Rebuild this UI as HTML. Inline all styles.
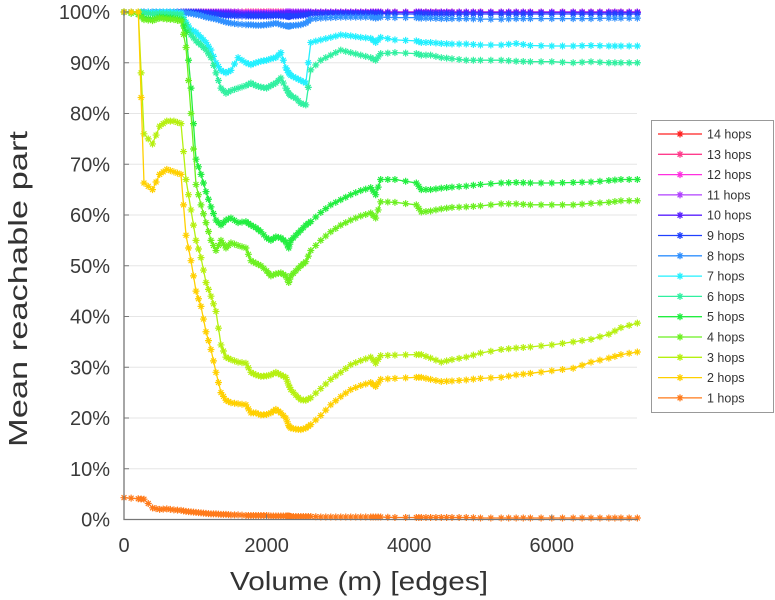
<!DOCTYPE html>
<html><head><meta charset="utf-8"><style>
body{margin:0;background:#fff;}
svg{display:block;font-family:"Liberation Sans",sans-serif;}
</style></head><body>
<svg id="chart" width="775" height="600" viewBox="0 0 775 600" xmlns="http://www.w3.org/2000/svg">
<g id="grid"></g>
<g id="series"></g>
<g id="axes"></g>
<text x="359" y="590" font-size="26" fill="#333" text-anchor="middle" textLength="258" lengthAdjust="spacingAndGlyphs">Volume (m) [edges]</text>
<text transform="translate(27,289) rotate(-90)" font-size="26" fill="#333" text-anchor="middle" textLength="316" lengthAdjust="spacingAndGlyphs">Mean reachable part</text>
<g id="legend"></g>
</svg>
<script>
const xs = [0,200,280,400,500,600,700,800,870,940,1010,1080,1150,1220,1290,1360,1430,1500,1600,1710,1780,1850,1920,2000,2060,2130,2200,2270,2310,2340,2410,2480,2550,2620,2760,2900,3040,3180,3320,3460,3530,3600,3800,4100,4170,4300,4450,4600,4800,5000,5290,5500,5700,6000,6300,6550,6800,6970,7200];
const h1 = [4.3,4.1,4.0,2.3,2.0,2.1,1.9,1.8,1.6,1.5, 1.4,1.3,1.2,1.1,1.1,1.0,1.0,0.9,0.9,0.8, 0.8,0.8,0.8,0.8,0.7,0.7,0.7,0.7,0.7,0.6, 0.6,0.6,0.6,0.6,0.5,0.5,0.5,0.5,0.5,0.5, 0.5,0.5,0.4,0.4,0.4,0.4,0.4,0.4,0.4,0.3, 0.3,0.3,0.3,0.3,0.3,0.3,0.3,0.3,0.3];
const h2 = [100,100,66.3,65,68,69,68.5,68,56,51, 45,42,37,33.5,29,25,23.5,23,22.8,22.6, 21,21,20.6,20.7,21,21.7,21,20,18.5,18, 17.8,17.7,18,18.7,20.5,22.6,24.2,25.6,26.4,27, 26.2,27.6,27.8,28,28,27.6,27.2,27.3,27.5,27.8, 28,28.5,28.8,29.3,29.8,31,31.8,32.5,33];
const h3 = [100,100,76,74,77.5,78.5,78.5,78,67,61, 55,51.6,46.7,44,41,34.4,32,31.5,31,30.8, 29,28.5,28.2,28.3,28.5,29,28.5,28,26.5,25.6, 24.5,23.6,23.5,24,25.8,27.6,29,30.5,31.3,32, 30.8,32.3,32.4,32.5,32.5,31.8,31,31.5,32,32.8, 33.5,33.8,34,34.4,35,35.5,36.5,37.8,38.7];
const h4 = [100,99.5,98.5,98.3,98.8,98.6,98.5,98.2,93,80, 66,62,58.5,55,53,55,53.5,54.5,54,53.5, 51,50.5,50,49,48,48.4,48.6,48,46.7,48, 49,50,50.8,53,55,56.7,58,59,59.8,60.4, 59.4,62.6,62.5,62,60.6,60.8,61.2,61.5,61.6,61.8, 62.2,62.2,62,62,62,62.3,62.5,62.8,62.8];
const h5 = [100,99.5,98.8,98.6,99,98.9,98.8,98.5,96,85, 71,68,64.6,61.6,59,58,59,59.4,58.5,58.7, 58,57.5,56.7,55.5,55,55.7,55.5,54.7,53.5,55, 56,57,58,58.7,60.5,62,63,64,64.8,65.4, 64,67,67,66.3,65,65,65.3,65.5,65.7,66, 66.3,66.4,66.3,66.3,66.4,66.5,66.8,67,67];
const h6 = [100,100,99.8,99.6,99.7,99.6,99.6,99.5,97.5,95.5, 94.3,93.5,92.5,91,88,85,84,84.5,85,85.5, 86,85.5,85.2,85,85.5,86,87,85,84,83.5, 83,82,81.7,88.6,90.5,91.5,92.5,92,91.5,91, 90.5,91.8,92,91.8,91.5,91.5,91,90.8,90.5,90.5, 90.5,90.3,90.2,90.2,90,90.2,90,90,90];
const h7 = [100,100,100,100,100,100,100,99.8,98,96.5, 96,95,94,92.5,90,88.5,88,88.5,91,90, 89.6,90,90.3,90.5,90.8,91,92,89,88,87.5, 87,86.5,86,94,94.5,95,95.5,95.3,95,94.8, 94,95,94.5,94.3,94,94,93.8,93.7,93.7,93.5, 93.5,93.8,93.4,93.3,93.3,93.4,93.3,93.3,93.3];
const h8 = [100,100,100,100,100,100,100,100,99.8,99.7, 99.5,99.3,99,98.8,98.6,98.3,98,97.8,97.6,97.5, 97.5,97.4,97.4,97.5,97.6,97.8,97.5,97.3,97.2,97.3, 97.4,97.5,97.8,98.6,98.8,98.9,99,99,99,99, 98.8,99,98.9,98.9,98.8,98.8,98.7,98.7,98.7,98.6, 98.6,98.7,98.7,98.7,98.7,98.7,98.8,98.8,98.8];
const h9 = [100,100,100,100,100,100,100,100,100,100, 99.9,99.8,99.7,99.6,99.5,99.4,99.3,99.3,99.2,99.2, 99.2,99.2,99.2,99.2,99.2,99.3,99.2,99.2,99.1,99.2, 99.2,99.3,99.4,99.6,99.6,99.7,99.7,99.7,99.7,99.7, 99.6,99.7,99.6,99.6,99.6,99.6,99.6,99.6,99.6,99.6, 99.6,99.6,99.6,99.6,99.6,99.6,99.6,99.6,99.6];
const h10 = [100,100,100,100,100,100,100,100,100,100, 100,100,99.9,99.9,99.9,99.8,99.8,99.8,99.7,99.6, 99.6,99.6,99.6,99.6,99.6,99.6,99.7,99.7,99.7,99.7, 99.8,99.8,99.8,99.9,99.9,99.9,99.9,99.9,99.9,99.9, 99.9,99.9,99.9,99.9,99.9,99.9,99.9,99.9,99.9,99.9, 99.9,99.9,99.9,99.9,99.9,99.9,99.9,99.9,99.9];
const h11 = [100,100,100,100,100,100,100,100,100,100, 100,100,100,100,100,100,100,100,100,99.8, 99.8,99.8,99.8,99.8,99.8,99.8,99.8,100,100,100, 100,100,100,100,100,100,100,100,100,100, 100,100,100,100,100,100,100,100,100,100, 100,100,100,100,100,100,100,100,100];
const h12 = [100,100,100,100,100,100,100,100,100,100, 100,100,100,100,100,100,100,100,100,99.9, 99.9,99.9,99.9,99.9,99.9,99.9,99.9,100,100,100, 100,100,100,100,100,100,100,100,100,100, 100,100,100,100,100,100,100,100,100,100, 100,100,100,100,100,100,100,100,100];
const h13 = [100,100,100,100,100,100,100,100,100,100, 100,100,100,100,100,100,100,100,100,100, 100,100,100,100,100,100,100,100,100,100, 100,100,100,100,100,100,100,100,100,100, 100,100,100,100,100,100,100,100,100,100, 100,100,100,100,100,100,100,100,100];
const h14 = [100,100,100,100,100,100,100,100,100,100, 100,100,100,100,100,100,100,100,100,100, 100,100,100,100,100,100,100,100,100,100, 100,100,100,100,100,100,100,100,100,100, 100,100,100,100,100,100,100,100,100,100, 100,100,100,100,100,100,100,100,100];
const seriesNames = ["1 hops","2 hops","3 hops","4 hops","5 hops","6 hops","7 hops","8 hops","9 hops","10 hops","11 hops","12 hops","13 hops","14 hops"];
const seriesVals = [h1,h2,h3,h4,h5,h6,h7,h8,h9,h10,h11,h12,h13,h14];
const colors = ["#ff7a1a","#ffd000","#b6f010","#6cf020","#22ee40","#30f0a0","#22f0ff","#3090ff","#2040ff","#5a20ff","#b040ff","#ff30e0","#ff3c8c","#ff2020"];
const yTicks = [0,10,20,30,40,50,60,70,80,90,100];
const xTicks = [0,2000,4000,6000];

const NS = "http://www.w3.org/2000/svg";
const X0 = 124, PXPER = 71.3/1000, Y0 = 519.5, PYPER = 5.075;
function sx(v){return X0 + v*PXPER;}
function sy(v){return Y0 - v*PYPER;}
function mk(tag, attrs, parent){const e=document.createElementNS(NS,tag);for(const k in attrs)e.setAttribute(k,attrs[k]);parent.appendChild(e);return e;}
function starPath(x,y,r){
  const d=r*0.7;
  return `M${x-r},${y}L${x+r},${y}M${x},${y-r}L${x},${y+r}M${x-d},${y-d}L${x+d},${y+d}M${x-d},${y+d}L${x+d},${y-d}`;
}
const grid=document.getElementById('grid'), axes=document.getElementById('axes'), ser=document.getElementById('series'), leg=document.getElementById('legend');
yTicks.forEach(t=>{
  if(t>0){const g=mk('line',{x1:X0,x2:637,y1:sy(t),y2:sy(t),stroke:'#e6e6e6','stroke-width':1},grid);
  
  }
  const tk=mk('line',{x1:X0,x2:X0+5,y1:sy(t),y2:sy(t),stroke:'#777','stroke-width':1},axes);
  
  
  const lb=mk('text',{x:110,y:sy(t)+7,'font-size':20,fill:'#3a3a3a','text-anchor':'end'},axes);
  lb.textContent=t+'%';
  
  
});
xTicks.forEach(t=>{
  const tk=mk('line',{x1:sx(t),x2:sx(t),y1:Y0,y2:Y0-5,stroke:'#777','stroke-width':1},axes);
  
  
  const lb=mk('text',{x:sx(t),y:552,'font-size':20,fill:'#3a3a3a','text-anchor':'middle'},axes);
  lb.textContent=t;
  
  
});
const ax=mk('path',{d:`M${X0},10L${X0},${Y0}L638,${Y0}`,fill:'none',stroke:'#777','stroke-width':1.3},axes);



for(let s=seriesVals.length-1;s>=0;s--){
  const vals=seriesVals[s];
  const g=mk('g',{},ser);
  
  
  let d='', st='';
  for(let i=0;i<xs.length;i++){
    const x=sx(xs[i]), y=sy(vals[i]);
    d+=(i?'L':'M')+x.toFixed(1)+','+y.toFixed(1);
    st+=starPath(x,y,3.5);
    if(i<xs.length-1){
      const x2=sx(xs[i+1]), y2=sy(vals[i+1]);
      st+=starPath((x+x2)/2,(y+y2)/2,3.5);
    }
  }
  const ln=mk('path',{d:d,fill:'none',stroke:colors[s],'stroke-width':1.3},g);
  
  
  const mp=mk('path',{d:st,fill:'none',stroke:colors[s],'stroke-width':1.2},g);
  
  
}

const box=mk('rect',{x:651.5,y:120.5,width:122,height:292,fill:'#fff',stroke:'#999','stroke-width':1},leg);


for(let k=0;k<14;k++){
  const s=13-k, y=134+k*20.3;
  const e=mk('g',{},leg);
  
  
  mk('line',{x1:658,x2:702,y1:y,y2:y,stroke:colors[s],'stroke-width':1.3},e);
  mk('path',{d:starPath(680,y,3.5),stroke:colors[s],'stroke-width':1.3,fill:'none'},e);
  const t=mk('text',{x:707,y:y+4.5,'font-size':12.5,fill:'#333'},e);
  t.textContent=seriesNames[s];
}
</script>
</body></html>
